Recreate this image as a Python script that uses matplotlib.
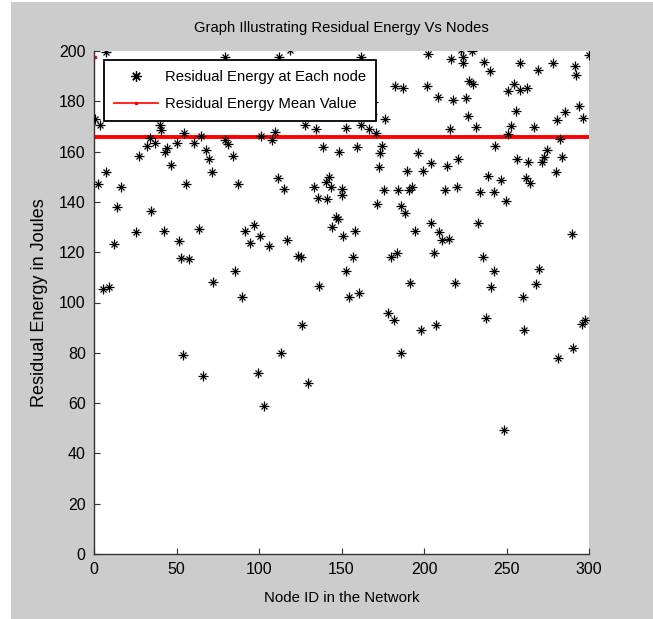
import numpy as np
import matplotlib as mpl
mpl.use('Agg')
import matplotlib.pyplot as plt
from matplotlib.lines import Line2D
from matplotlib.patches import Rectangle

plt.rcParams['font.family'] = ['Liberation Sans', 'DejaVu Sans']

# node id / residual energy
node_x = [0.6, 3.6, 2.6, 5.6, 7.1, 7.1, 9.3, 12.3, 13.7, 16.4,
          25.3, 27.3, 32, 34, 34.4, 37, 40, 40.6, 42.6, 43,
          44, 46.5, 50.5, 51.7, 52.5, 53.7, 54.5, 55.8, 57.4, 60.6,
          63.5, 64.8, 66.3, 67.9, 69.7, 71.5, 72.3, 79.4, 81, 84,
          85.5, 87.5, 89.7, 91.7, 94.5, 97.2, 99.2, 100.6, 102.8, 101.4,
          106, 108, 109.6, 111.6, 112.3, 113.3, 115, 117, 118.6, 123.5,
          125.5, 126.3, 127.8, 129.9, 133.6, 134.7, 135.5, 136.6, 138.9, 140.5,
          141.4, 142.4, 143.7, 144, 146.5, 147.7, 148.5, 150, 150.5, 151,
          152.5, 153, 154.6, 157, 158, 159.4, 160.4, 161.6, 161.9, 166.4,
          169, 168.5, 170.9, 171.5, 172.8, 173.4, 174.7, 175.5, 176.6, 178,
          180, 181.7, 182.2, 183.7, 184, 185.8, 186, 187.2, 188.5, 189.5,
          190.7, 191.5, 193, 194.8, 196.2, 198.2, 199.6, 201.8, 202.4, 204.3,
          204, 206, 207.2, 208.7, 209.2, 210.7, 213, 213.7, 215, 215.6,
          216.2, 217.8, 218.6, 220, 220.5, 222.4, 223.7, 223.9, 225.4, 226.6,
          227.3, 229.1, 229.5, 231.5, 233, 233.8, 235.8, 236.4, 237.6, 238.5,
          240, 240.8, 242.3, 242.6, 243.2, 246.6, 248.7, 249.4, 250.7, 251.1,
          252.7, 254.3, 255.7, 256.5, 257.9, 258.2, 260, 260.4, 262, 262.7,
          263.3, 264.5, 266.8, 267.9, 269.1, 269.7, 271.8, 272.9, 274.3, 278.3,
          279.7, 280.5, 281.3, 282.7, 283.4, 285.6, 289.7, 290.3, 291.6, 292.3,
          294, 296.5, 295.8, 297.8, 299.9, 79.2]
energy_y = [172.8, 170.6, 147.1, 105.5, 151.8, 199.5, 106, 123.1, 137.8, 146,
            127.9, 158.4, 162.2, 165.6, 136.5, 163.5, 170.6, 168.5, 128.4, 159.8,
            161.5, 154.5, 163.3, 124.3, 117.5, 79.1, 167.2, 147.1, 117.2, 163.5,
            129.1, 166.3, 70.8, 160.7, 157, 151.8, 108.3, 164.6, 163.2, 158.2,
            112.4, 147.1, 102, 128.4, 123.7, 130.8, 72.1, 126.5, 59, 166.2,
            122.5, 164.6, 167.7, 149.5, 197.7, 79.9, 145, 124.7, 200.3, 118.6,
            118, 90.9, 170.4, 67.9, 146, 168.8, 141.6, 106.4, 161.9, 148,
            141.3, 150, 146, 130, 133.8, 133.3, 160, 145, 142.9, 126.4,
            169.5, 112.4, 102, 118, 128.3, 161.8, 103.8, 170.5, 197.6, 169,
            179.7, 174.8, 167.4, 139.3, 153.7, 159.3, 162.4, 144.8, 173.1, 96,
            118, 93, 185.9, 119.7, 144.8, 80, 138.5, 185.2, 135.4, 152.3,
            144.8, 107.7, 146, 128.3, 159.3, 89.1, 152.3, 185.9, 198.7, 155.5,
            131.8, 119.7, 90.9, 181.6, 127.9, 124.7, 144.8, 154.2, 125.2, 169,
            196.9, 180.6, 107.7, 146, 157, 200.2, 195.4, 197.6, 181.2, 174.1,
            188.2, 200, 187, 169.8, 131.8, 144, 118.2, 195.8, 93.9, 150.2,
            192.2, 106, 112.4, 144, 162.3, 148.7, 49.2, 140.5, 166.8, 184.2,
            170.1, 186.7, 176.3, 157.2, 195.2, 184.5, 102, 89.1, 149.5, 185.2,
            155.7, 147.4, 169.8, 107.2, 192.3, 113.5, 155.8, 157.8, 160.6, 195.1,
            151.8, 172.6, 77.9, 165.2, 157.8, 175.9, 127.1, 82.1, 194, 190.3,
            178.1, 173.5, 91.5, 93.2, 198.6, 197.5]
mean_energy = 166.0
stray_x = [0.6]
stray_y = [197.5]

fig = plt.figure(figsize=(6.53, 6.19), dpi=100, facecolor='white')
fig.patches.append(Rectangle((11 / 653., 0), 1, 617 / 619., transform=fig.transFigure,
                             facecolor='#cccccc', edgecolor='none', zorder=-10))
ax = fig.add_axes([94 / 653., 1 - 554 / 619., 495 / 653., 503 / 619.])

ax.plot(node_x, energy_y, ls='none', marker='+', ms=7, mew=0.9, c='k', zorder=3)
ax.plot(node_x, energy_y, ls='none', marker='x', ms=4.5, mew=0.9, c='k', zorder=3)
ax.axhline(mean_energy, c='red', lw=2.8, zorder=2)
ax.plot(stray_x, stray_y, ls='none', marker='s', ms=1.5, c='red', mec='red')

ax.set_xlim(0, 300)
ax.set_ylim(0, 200)
ax.set_xticks(np.arange(0, 301, 50))
ax.set_yticks(np.arange(0, 201, 20))
ax.tick_params(direction='in', length=4, labelsize=11.5, pad=6, colors='#333333', labelcolor='black')
ax.spines['top'].set_visible(False)
ax.spines['right'].set_visible(False)
for s in ['left', 'bottom']:
  ax.spines[s].set_color('#333333')
  ax.spines[s].set_linewidth(1.0)

ax.set_title("Graph Illustrating Residual Energy Vs Nodes", fontsize=10.6, pad=14)
ax.set_xlabel("Node ID in the Network", fontsize=10.8, labelpad=10)
ax.set_ylabel("Residual Energy in Joules", fontsize=13, labelpad=8)

h1 = Line2D([], [], ls='none', marker=(8, 2, 0), ms=7.5, mew=0.9, c='k')
h2 = Line2D([], [], c='red', lw=1.2, marker='s', ms=1.5)
leg = ax.legend([h1, h2], ["Residual Energy at Each node", "Residual Energy Mean Value"],
                loc='upper left', bbox_to_anchor=(0.02, 0.982), borderaxespad=0,
                fontsize=10.7, fancybox=False, framealpha=1, edgecolor='black',
                handlelength=3.0, handletextpad=0.45, borderpad=0.65, labelspacing=0.9)
leg.get_frame().set_linewidth(1.3)

plt.savefig('out.png', dpi=100, facecolor=fig.get_facecolor())
